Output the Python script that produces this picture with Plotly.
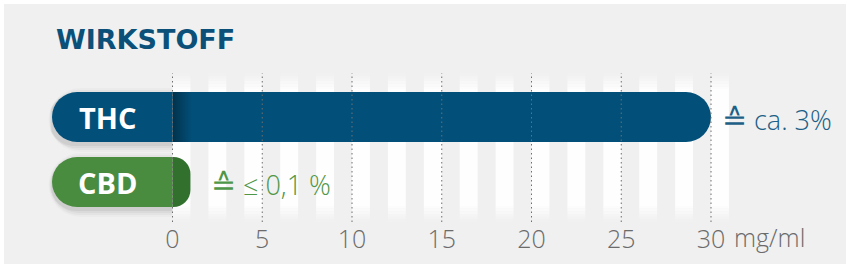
import plotly.graph_objects as go

# ---------------- data ----------------
categories = ["THC", "CBD"]
values_mg_ml = [30, 1]
value_signs = ["≙", "≙"]
value_labels = ["ca. 3%", "≤ 0,1 %"]
tick_values = [0, 5, 10, 15, 20, 25, 30]
tick_labels = ["0", "5", "10", "15", "20", "25", "30"]
unit_label = "mg/ml"
title_text = "WIRKSTOFF"

# ---------------- geometry / style ----------------
W, H = 850, 268
X0_PX, XMAX_PX = 172.5, 711.0
PX = (XMAX_PX - X0_PX) / tick_values[-1]          # pixels per mg/ml
PLOT_TOP, PLOT_BOT = 73, 222
ROW_PX = 65
BAR_PX = 50
ROW0_CENTER_PX = 182

x_range = [-X0_PX / PX, (W - X0_PX) / PX]
n = len(categories)
ypos = [n - 1 - i for i in range(n)]
y_range = [-(PLOT_BOT - ROW0_CENTER_PX) / ROW_PX,
           (n - 1) + ((ROW0_CENTER_PX - (n - 1) * ROW_PX) - PLOT_TOP) / ROW_PX]
bar_w = BAR_PX / ROW_PX
label_left = (52 - X0_PX) / PX
label_center = (107 - X0_PX) / PX

label_colors = ["#02507a", "#4a8c3f"]
value_colors = ["#02507a", "#32702d"]
text_colors = ["#1c5f87", "#4f9748"]
value_pad_px = [9, 19]

BG = "#f0f0f0"
GRID = "#6e6e6e"
TICK = "#6b6b6b"

fig = go.Figure()

# soft drop shadows under label pills
for k, a in [(7, 0.02), (5, 0.03), (3, 0.04), (1, 0.05)]:
    w = (BAR_PX + 2 * k) / ROW_PX
    fig.add_trace(go.Bar(
        y=ypos, x=[label_left - 0.5 * k / PX] * n,
        orientation="h", width=w, offset=-w / 2 - 3 / ROW_PX,
        marker=dict(color=f"rgba(0,0,0,{a})", line=dict(width=0), cornerradius="50%"),
        hoverinfo="skip", showlegend=False))

# value bars (rounded at their outer end)
fig.add_trace(go.Bar(
    y=ypos, x=values_mg_ml, orientation="h", width=bar_w,
    marker=dict(color=value_colors, line=dict(width=0), cornerradius="50%"),
    hoverinfo="skip", showlegend=False))

# label pills (extend to the left of zero, rounded at the left end)
fig.add_trace(go.Bar(
    y=ypos, x=[label_left] * n, orientation="h", width=bar_w,
    marker=dict(color=label_colors, line=dict(width=0), cornerradius="50%"),
    hoverinfo="skip", showlegend=False))

# shadow cast by the label pill onto long value bars
SH = 20 / PX
for i in range(n):
    if values_mg_ml[i] > 2 * SH:
        yc, hw = ypos[i], bar_w / 2
        fig.add_trace(go.Scatter(
            x=[0, SH, SH, 0, 0], y=[yc - hw, yc - hw, yc + hw, yc + hw, yc - hw],
            mode="lines", line=dict(width=0), fill="toself",
            fillgradient=dict(type="horizontal",
                              colorscale=[[0, "rgba(0,0,0,0.38)"], [1, "rgba(0,0,0,0)"]],
                              start=0, stop=SH),
            hoverinfo="skip", showlegend=False))

shapes = [dict(type="rect", xref="paper", yref="paper",
               x0=4 / W, x1=(W - 4) / W,
               y0=(PLOT_BOT - 264) / (PLOT_BOT - PLOT_TOP), y1=(PLOT_BOT - 4) / (PLOT_BOT - PLOT_TOP),
               fillcolor=BG, line=dict(width=0), layer="below")]

# white vertical stripes with faded ends
FADE = 16 / ROW_PX
STEPS = 6
ylo, yhi = y_range[0], y_range[1]
for k in range(0, tick_values[-1] + 1, 2):
    shapes.append(dict(type="rect", xref="x", yref="y", x0=k, x1=k + 1,
                       y0=ylo + FADE, y1=yhi - FADE, fillcolor="rgba(255,255,255,0.88)",
                       line=dict(width=0), layer="below"))
    for s in range(STEPS):
        a = 0.88 * (s + 0.5) / STEPS
        h = FADE / STEPS
        shapes.append(dict(type="rect", xref="x", yref="y", x0=k, x1=k + 1,
                           y0=ylo + s * h, y1=ylo + (s + 1) * h,
                           fillcolor=f"rgba(255,255,255,{a:.3f})", line=dict(width=0), layer="below"))
        shapes.append(dict(type="rect", xref="x", yref="y", x0=k, x1=k + 1,
                           y0=yhi - (s + 1) * h, y1=yhi - s * h,
                           fillcolor=f"rgba(255,255,255,{a:.3f})", line=dict(width=0), layer="below"))

for t in tick_values:
    shapes.append(dict(type="line", xref="x", yref="paper", x0=t, x1=t, y0=0, y1=1,
                       line=dict(color=GRID, width=1, dash="1.5px,3px"), layer="above"))

annotations = [dict(text=f"<b>{title_text}</b>", xref="paper", yref="paper",
                    x=54 / W, y=(PLOT_BOT - 39) / (PLOT_BOT - PLOT_TOP),
                    xanchor="left", yanchor="middle", showarrow=False,
                    font=dict(family="DejaVu Sans", size=27, color="#0b5079"))]
for i in range(n):
    annotations.append(dict(text=f"<b>{categories[i]}</b>", x=label_center, y=ypos[i],
                            xanchor="center", yanchor="middle", showarrow=False,
                            font=dict(family="Open Sans", size=29, color="white")))
    txt = (f"<span style='font-family:Noto Sans CJK JP;font-size:30px;font-weight:300'>"
           f"{value_signs[i]}</span> {value_labels[i]}")
    annotations.append(dict(text=txt, x=values_mg_ml[i] + value_pad_px[i] / PX,
                            y=ypos[i], xanchor="left", yanchor="middle", showarrow=False,
                            font=dict(family="Open Sans", size=27, color=text_colors[i], weight=300)))
annotations.append(dict(text=unit_label, x=tick_values[-1] + 21 / PX, xanchor="left",
                        yref="paper", y=(PLOT_BOT - 237) / (PLOT_BOT - PLOT_TOP), yanchor="middle",
                        showarrow=False,
                        font=dict(family="Open Sans", size=25, color=TICK, weight=300)))

fig.update_layout(
    width=W, height=H, margin=dict(l=0, r=0, t=PLOT_TOP, b=H - PLOT_BOT, pad=0),
    paper_bgcolor="white", plot_bgcolor="rgba(0,0,0,0)",
    barmode="overlay", showlegend=False,
    shapes=shapes, annotations=annotations,
    xaxis=dict(range=x_range, tickvals=tick_values, ticktext=tick_labels,
               showgrid=False, zeroline=False, showline=False, ticks="",
               ticklabelstandoff=0,
               tickfont=dict(family="Open Sans", size=25, color=TICK, weight=300),
               fixedrange=True),
    yaxis=dict(range=y_range, showgrid=False, zeroline=False, showline=False,
               showticklabels=False, fixedrange=True),
)

fig.write_html("out.html")
